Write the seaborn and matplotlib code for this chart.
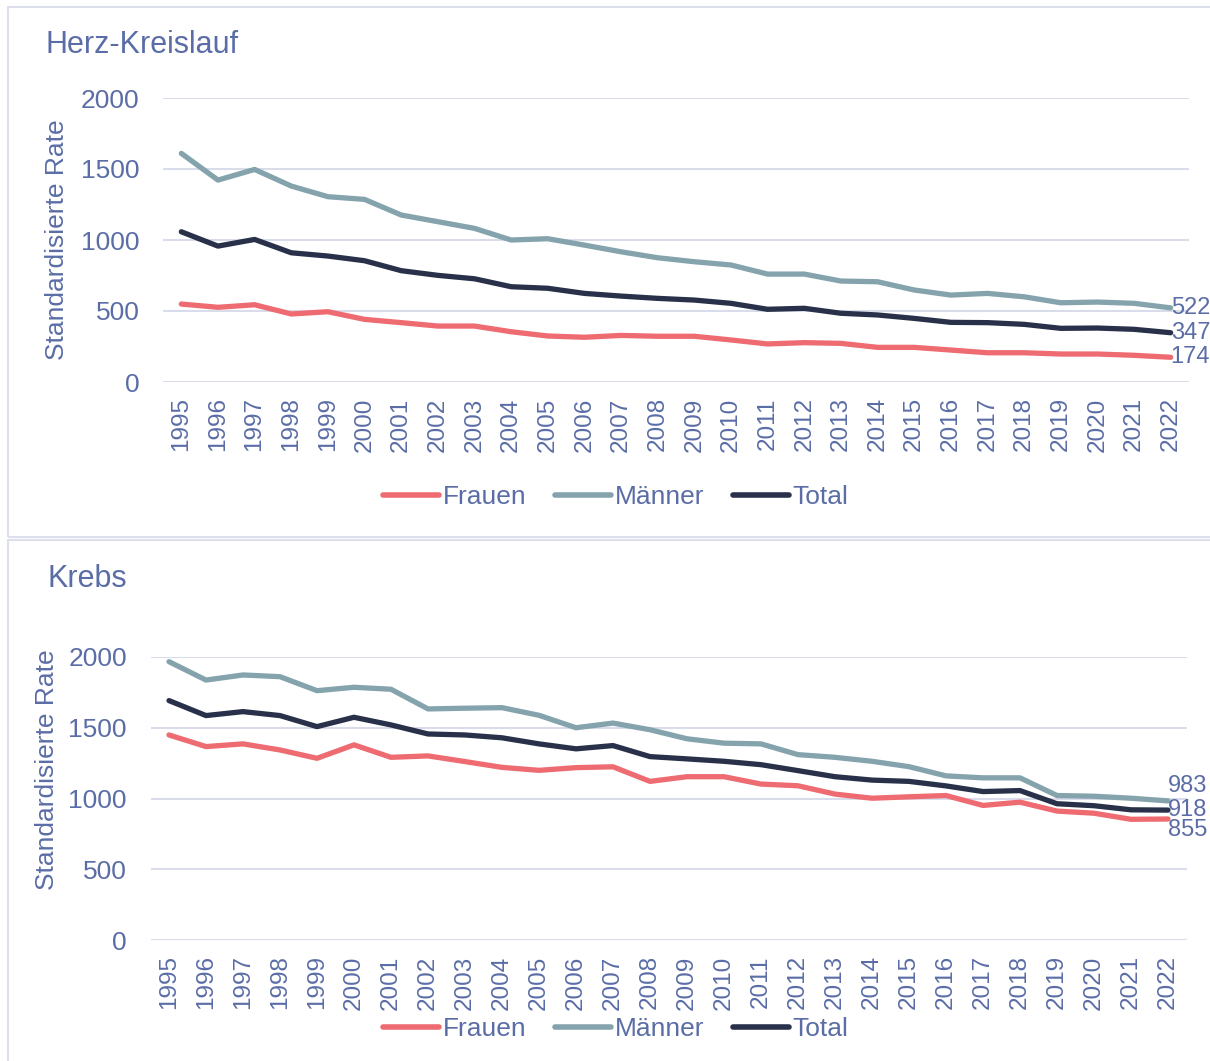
import numpy as np
import pandas as pd
import seaborn as sns
import matplotlib.pyplot as plt
from matplotlib.patches import Rectangle

# ---------------- data ----------------
years = [1995, 1996, 1997, 1998, 1999, 2000, 2001, 2002, 2003, 2004,
         2005, 2006, 2007, 2008, 2009, 2010, 2011, 2012, 2013, 2014,
         2015, 2016, 2017, 2018, 2019, 2020, 2021, 2022]
series = ["Frauen", "Männer", "Total"]

herz_frauen = [549, 526, 544, 479, 495, 441, 418, 394, 394, 354,
               324, 315, 328, 322, 322, 296, 268, 277, 272, 244,
               244, 225, 206, 206, 197, 197, 188, 174]
herz_maenner = [1610, 1422, 1497, 1380, 1305, 1286, 1176, 1129, 1082, 1000,
                1009, 964, 917, 875, 847, 824, 760, 760, 711, 706,
                648, 612, 624, 600, 558, 563, 554, 522]
herz_total = [1058, 957, 1004, 910, 887, 854, 784, 751, 727, 671,
              660, 624, 605, 589, 577, 554, 512, 519, 484, 472,
              448, 420, 418, 406, 378, 380, 371, 347]

krebs_frauen = [1449, 1367, 1386, 1343, 1284, 1379, 1291, 1301, 1261, 1220,
                1199, 1218, 1224, 1121, 1154, 1154, 1102, 1090, 1031, 1002,
                1012, 1021, 951, 974, 911, 896, 853, 855]
krebs_maenner = [1967, 1837, 1873, 1861, 1762, 1786, 1772, 1633, 1638, 1642,
                 1588, 1500, 1533, 1486, 1422, 1391, 1386, 1310, 1291, 1263,
                 1225, 1160, 1146, 1146, 1021, 1016, 1002, 983]
krebs_total = [1692, 1586, 1614, 1586, 1508, 1574, 1520, 1456, 1449, 1429,
               1386, 1351, 1374, 1296, 1280, 1263, 1239, 1197, 1154, 1130,
               1121, 1089, 1049, 1056, 963, 949, 920, 918]

y_ticks = [0, 500, 1000, 1500, 2000]
titles = ["Herz-Kreislauf", "Krebs"]
ylabel = "Standardisierte Rate"

# ---------------- style ----------------
sns.set_theme(style="white")
plt.rcParams['font.family'] = ['Liberation Sans', 'DejaVu Sans']
TXT = "#5B6DA6"
GRID = "#d9dcea"
colors = {"Frauen": "#EE6B71", "Männer": "#84A3AD", "Total": "#283149"}

W, H = 1210, 1061
fig = plt.figure(figsize=(W / 100, H / 100), dpi=100)

# panel frames
fig.patches.append(Rectangle((8 / W, 1 - 537 / H), 1300 / W, 530 / H,
                             transform=fig.transFigure, fill=False,
                             ec="#dde0ec", lw=1.5))
fig.patches.append(Rectangle((8 / W, -0.05), 1300 / W, 0.05 + 1 - 540 / H,
                             transform=fig.transFigure, fill=False,
                             ec="#dde0ec", lw=1.5))


def panel(rect, frauen, maenner, total, title, title_xy, ylabel_xy,
          legend_y, label_offsets):
    ax = fig.add_axes(rect)
    df = pd.DataFrame({
        "Jahr": years * 3,
        "Rate": frauen + maenner + total,
        "Serie": [s for s in series for _ in years],
    })
    sns.lineplot(data=df, x="Jahr", y="Rate", hue="Serie",
                 hue_order=series, palette=colors, linewidth=3.8,
                 ax=ax, legend=True)
    for ln in ax.lines:
        ln.set_solid_capstyle("round")
        ln.set_solid_joinstyle("round")
    ax.set_xlim(years[0] - 0.5, years[-1] + 0.5)
    ax.set_ylim(0, 2000)
    ax.set_yticks(y_ticks)
    ax.set_yticklabels([str(v) for v in y_ticks])
    ax.set_xticks(years)
    ax.set_xticklabels([str(y) for y in years], rotation=90)
    ax.tick_params(axis="y", labelsize=19, colors=TXT, length=0, pad=17)
    ax.tick_params(axis="x", labelsize=17.5, colors=TXT, length=0, pad=11)
    ax.yaxis.grid(True, color=GRID, lw=1.5)
    ax.xaxis.grid(False)
    for sp in ax.spines.values():
        sp.set_visible(False)
    ax.set_xlabel("")
    ax.set_ylabel("")
    ax.set_axisbelow(True)

    # end labels
    for vals, dy in zip([maenner, total, frauen], label_offsets):
        ax.annotate(str(vals[-1]), xy=(years[-1], vals[-1]),
                    xytext=(0, dy), textcoords="offset points",
                    ha="left", va="center", fontsize=17, color=TXT,
                    annotation_clip=False)

    handles, labels = ax.get_legend_handles_labels()
    ax.legend_.remove()
    for h in handles:
        h.set_linewidth(4)
        h.set_solid_capstyle("round")
    fig.legend(handles, labels, loc="center", bbox_to_anchor=(0.509, legend_y),
               ncol=3, frameon=False, fontsize=19, handlelength=2.1,
               handletextpad=0.15, columnspacing=1.1, labelcolor=TXT)

    fig.text(title_xy[0], title_xy[1], title, fontsize=22, color=TXT,
             ha="left", va="baseline")
    fig.text(ylabel_xy[0], ylabel_xy[1], ylabel, fontsize=19, color=TXT,
             rotation=90, ha="center", va="center")
    return ax


panel([163 / W, 1 - 382 / H, (1189 - 163) / W, (382 - 98) / H],
      herz_frauen, herz_maenner, herz_total, titles[0],
      (45 / W, 1 - 53 / H), (57 / W, 1 - 240 / H), 1 - 497 / H,
      (0, 0, 0))

panel([150.5 / W, 1 - 940 / H, (1186.5 - 150.5) / W, (940 - 657) / H],
      krebs_frauen, krebs_maenner, krebs_total, titles[1],
      (47 / W, 1 - 587 / H), (47 / W, 1 - 770 / H), 1 - 1029 / H,
      (11, 0, -8))

fig.savefig("out.png", dpi=100)
